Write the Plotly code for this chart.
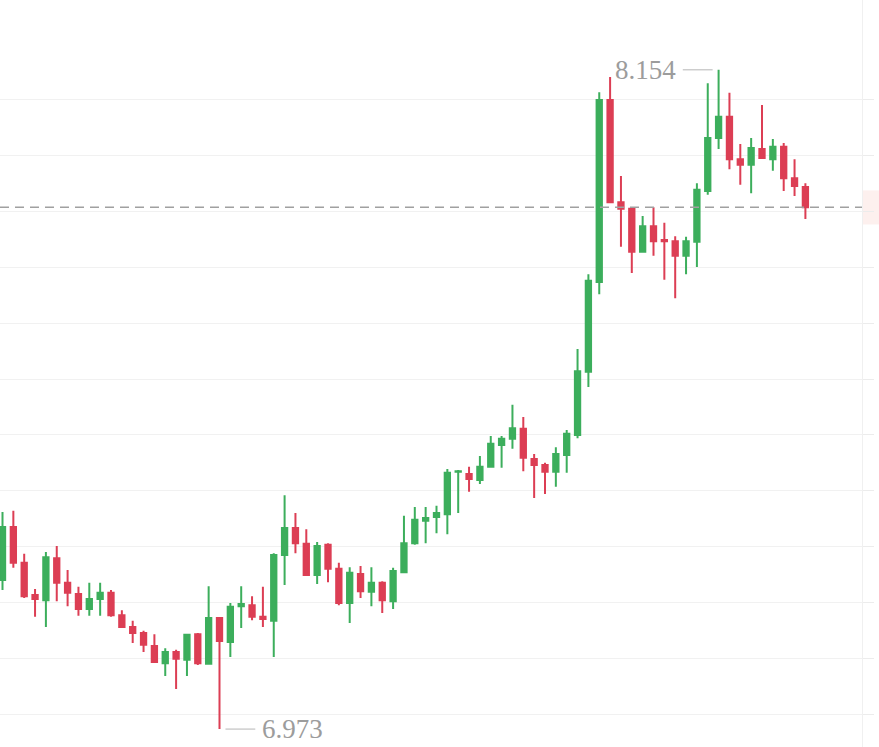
import plotly.graph_objects as go

opens = [7.240, 7.335, 7.271, 7.213, 7.204, 7.279, 7.235, 7.215, 7.188, 7.206,
         7.217, 7.177, 7.156, 7.145, 7.122, 7.091, 7.111, 7.097, 7.143, 7.090,
         7.172, 7.129, 7.193, 7.195, 7.174, 7.167, 7.285, 7.333, 7.305, 7.249,
         7.303, 7.260, 7.199, 7.251, 7.219, 7.235, 7.202, 7.254, 7.306, 7.346,
         7.353, 7.358, 7.434, 7.430, 7.419, 7.443, 7.482, 7.493, 7.511, 7.457,
         7.446, 7.434, 7.464, 7.500, 7.613, 7.774, 8.100, 7.917, 7.905, 7.828,
         7.874, 7.849, 7.847, 7.821, 7.846, 7.937, 8.032, 8.070, 7.994, 7.984,
         8.012, 7.994, 8.016, 7.960, 7.944]
highs = [7.362, 7.364, 7.287, 7.224, 7.290, 7.301, 7.258, 7.228, 7.235, 7.235,
         7.222, 7.186, 7.167, 7.149, 7.143, 7.118, 7.115, 7.143, 7.145, 7.229,
         7.173, 7.199, 7.229, 7.211, 7.228, 7.288, 7.392, 7.360, 7.331, 7.308,
         7.306, 7.271, 7.263, 7.265, 7.263, 7.238, 7.262, 7.355, 7.371, 7.371,
         7.373, 7.439, 7.437, 7.443, 7.462, 7.498, 7.498, 7.554, 7.532, 7.466,
         7.450, 7.478, 7.509, 7.654, 7.788, 8.114, 8.141, 7.964, 7.905, 7.892,
         7.908, 7.880, 7.856, 7.855, 7.951, 8.130, 8.154, 8.113, 8.021, 8.032,
         8.091, 8.030, 8.023, 7.994, 7.951]
lows = [7.222, 7.262, 7.208, 7.174, 7.156, 7.202, 7.193, 7.176, 7.176, 7.176,
        7.174, 7.155, 7.127, 7.111, 7.092, 7.068, 7.045, 7.068, 7.088, 7.089,
        6.973, 7.102, 7.154, 7.168, 7.156, 7.102, 7.231, 7.288, 7.248, 7.233,
        7.236, 7.195, 7.163, 7.208, 7.193, 7.181, 7.188, 7.253, 7.303, 7.306,
        7.324, 7.322, 7.360, 7.398, 7.412, 7.442, 7.441, 7.475, 7.435, 7.387,
        7.394, 7.407, 7.432, 7.494, 7.586, 7.752, 7.915, 7.837, 7.790, 7.828,
        7.821, 7.778, 7.745, 7.788, 7.801, 7.930, 8.012, 7.976, 7.948, 7.933,
        7.996, 7.973, 7.937, 7.928, 7.887]
closes = [7.335, 7.271, 7.211, 7.206, 7.281, 7.235, 7.217, 7.188, 7.206, 7.217,
          7.177, 7.156, 7.145, 7.124, 7.093, 7.111, 7.099, 7.142, 7.091, 7.172,
          7.131, 7.192, 7.197, 7.174, 7.170, 7.285, 7.333, 7.306, 7.249, 7.301,
          7.260, 7.199, 7.253, 7.220, 7.235, 7.204, 7.256, 7.306, 7.348, 7.351,
          7.360, 7.432, 7.435, 7.421, 7.443, 7.484, 7.493, 7.512, 7.459, 7.446,
          7.434, 7.466, 7.502, 7.614, 7.776, 8.100, 7.917, 7.905, 7.828, 7.874,
          7.847, 7.847, 7.821, 7.847, 7.939, 8.032, 8.070, 7.994, 7.984, 8.014,
          7.996, 8.016, 7.960, 7.946, 7.908]
grid_ticks = [7.0, 7.1, 7.2, 7.3, 7.4, 7.5, 7.6, 7.7, 7.8, 7.9, 8.0, 8.1]

UP = "#3CAE5C"
DOWN = "#DC3E54"
GREY = "#9c9c9c"

idx = list(range(len(opens)))
last_close = closes[-1]
i_max = max(idx, key=lambda i: highs[i])
i_min = min(idx, key=lambda i: lows[i])

fig = go.Figure()
fig.add_trace(go.Candlestick(
    x=idx, open=opens, high=highs, low=lows, close=closes,
    increasing=dict(line=dict(color=UP, width=2), fillcolor=UP),
    decreasing=dict(line=dict(color=DOWN, width=2), fillcolor=DOWN),
    whiskerwidth=0, showlegend=False, hoverinfo="skip",
))

W, H = 879, 747
plot_right = 862 / W
px_per_idx = 10.85
x0 = -2.5 / px_per_idx
x1 = x0 + 862 / px_per_idx
px_per_unit = 558.2
y_top = 7.0 + 714 / px_per_unit
y_bot = 7.0 - (H - 714) / px_per_unit

shapes = [
    dict(type="line", xref="paper", yref="y", x0=0, x1=plot_right,
         y0=last_close, y1=last_close,
         line=dict(color="#a0a0a0", width=1.5, dash="9px,6px"), layer="above"),
    dict(type="rect", xref="paper", yref="y", x0=plot_right + 0.001, x1=1.0,
         y0=last_close - 0.031, y1=last_close + 0.030,
         fillcolor="#fdf0ee", line=dict(width=0), layer="below"),
    dict(type="line", xref="x", yref="y", x0=i_max - 0.55, x1=i_max - 3.3,
         y0=highs[i_max], y1=highs[i_max], line=dict(color="#b5b5b5", width=1)),
    dict(type="line", xref="x", yref="y", x0=i_min + 0.55, x1=i_min + 3.3,
         y0=lows[i_min], y1=lows[i_min], line=dict(color="#b5b5b5", width=1)),
]

annotations = [
    dict(x=i_max - 3.3, y=highs[i_max], xref="x", yref="y",
         text=f"{highs[i_max]:.3f}", showarrow=False, xanchor="right",
         yanchor="middle", xshift=-5,
         font=dict(family="Liberation Serif", size=27, color=GREY)),
    dict(x=i_min + 3.3, y=lows[i_min], xref="x", yref="y",
         text=f"{lows[i_min]:.3f}", showarrow=False, xanchor="left",
         yanchor="middle", xshift=5,
         font=dict(family="Liberation Serif", size=27, color=GREY)),
]

fig.update_layout(
    width=W, height=H,
    margin=dict(l=0, r=0, t=0, b=0),
    paper_bgcolor="white", plot_bgcolor="white",
    shapes=shapes, annotations=annotations,
    xaxis=dict(domain=[0, plot_right], range=[x0, x1], showgrid=False,
               showticklabels=False, zeroline=False, showline=False,
               rangeslider=dict(visible=False), fixedrange=True),
    yaxis=dict(range=[y_bot, y_top], side="right", tickvals=grid_ticks,
               showticklabels=False, showgrid=True, gridcolor="#f1f1f1",
               gridwidth=1, ticks="outside", ticklen=11, tickcolor="#ececec",
               showline=True, linecolor="#f0f0f0", linewidth=1,
               zeroline=False, fixedrange=True),
)

fig.write_html(
    "out.html",
    config={"displayModeBar": False},
    post_script="document.body.style.margin='0';document.body.style.overflow='hidden';",
)
